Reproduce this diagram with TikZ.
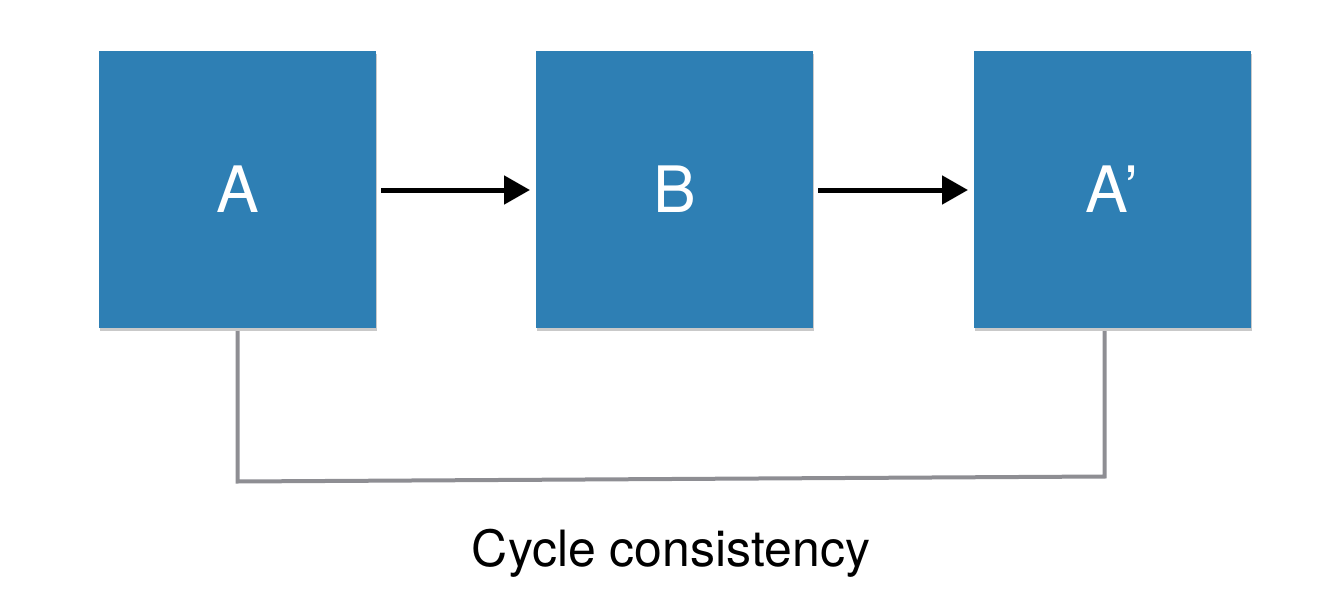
\documentclass[tikz,border=0pt]{standalone}
\usepackage{fontspec}
\setmainfont{TeX Gyre Heros}
\usetikzlibrary{arrows.meta,shadows}
\definecolor{boxblue}{HTML}{2E7FB4}
\definecolor{linkgray}{HTML}{8E8E93}
\begin{document}
\begin{tikzpicture}[x=1pt,y=-1pt,
  blockbox/.style={fill=boxblue, minimum width=277pt, minimum height=277pt, inner sep=0pt,
    text=white, font=\fontsize{64}{70}\selectfont,
    drop shadow={shadow xshift=1pt, shadow yshift=-3pt, opacity=0.3, fill=black!70}},
  flowarrow/.style={line width=5pt, -{Triangle[length=26pt,width=28pt]}},
  cyclelink/.style={draw=linkgray, line width=4pt}]
\useasboundingbox (0,0) rectangle (1318,597);
\node[blockbox] (a) at (237.5,189.5) {A};
\node[blockbox] (b) at (674.5,189.5) {B};
\node[blockbox] (c) at (1112,189.5) {A’};
\coordinate (a1) at (237.5,331);
\coordinate (a2) at (237.5,481.5);
\coordinate (c2) at (1104.5,476.5);
\coordinate (c1) at (1104.5,331);
\draw[flowarrow] (381,190) -- (530,190);
\draw[flowarrow] (818,190) -- (968,190);
\draw[cyclelink] (a1) -- (a2) -- (c2) -- (c1);
\node[font=\fontsize{50}{56}\selectfont] (cap) at (671,553) {Cycle consistency};
\end{tikzpicture}
\end{document}
